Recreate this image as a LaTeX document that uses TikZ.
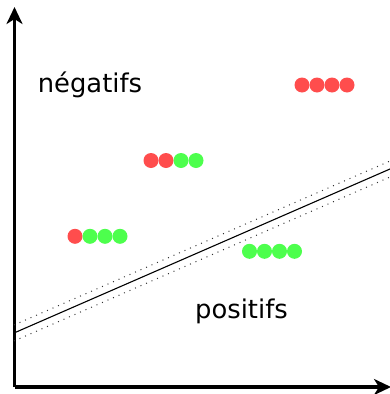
\documentclass[tikz,border=0pt]{standalone}
\usepackage{fontspec}
\setmainfont{DejaVu Sans}
\usetikzlibrary{arrows.meta}
\definecolor{dotred}{RGB}{255,77,77}
\definecolor{dotgreen}{RGB}{77,255,77}
\tikzset{
  axis/.style={line width=3.5pt,-{Stealth[length=17pt,width=16pt,inset=5pt]}},
  reddot/.style={circle,fill=dotred,minimum size=15pt,inner sep=0pt},
  greendot/.style={circle,fill=dotgreen,minimum size=15pt,inner sep=0pt},
  sep/.style={line width=1.1pt},
  margin/.style={line width=1pt,dash pattern=on 1pt off 5pt,black!80},
  lbl/.style={font=\fontsize{25.8}{30}\selectfont,inner sep=0pt}
}
\begin{document}
\begin{tikzpicture}[x=1pt,y=-1pt]
\useasboundingbox (0,0) rectangle (390,394);
\coordinate (O) at (14.5,387);
\coordinate (Ytip) at (14.5,7);
\coordinate (Xtip) at (391,387);
\draw[axis] (O) -- (Ytip);
\draw[axis] (O) -- (Xtip);
% separator and margins
\coordinate (s1) at (14,333);
\coordinate (s2) at (390,169);
\coordinate (u1) at (14,325);
\coordinate (u2) at (390,161);
\coordinate (l1) at (14,341);
\coordinate (l2) at (390,177);
\draw[sep] (s1) -- (s2);
\draw[margin] (u1) -- (u2);
\draw[margin] (l1) -- (l2);
% dots row 1
\node[reddot] (a1) at (302,85) {};
\node[reddot] (a2) at (317,85) {};
\node[reddot] (a3) at (332,85) {};
\node[reddot] (a4) at (347,85) {};
% row 2
\node[reddot] (b1) at (151,160.5) {};
\node[reddot] (b2) at (166,160.5) {};
\node[greendot] (b3) at (181,160.5) {};
\node[greendot] (b4) at (196,160.5) {};
% row 3
\node[reddot] (c1) at (75,236.3) {};
\node[greendot] (c2) at (90,236.3) {};
\node[greendot] (c3) at (105,236.3) {};
\node[greendot] (c4) at (120,236.3) {};
% row 4
\node[greendot] (d1) at (249.5,251.3) {};
\node[greendot] (d2) at (264.5,251.3) {};
\node[greendot] (d3) at (279.5,251.3) {};
\node[greendot] (d4) at (294.5,251.3) {};
% labels
\node[lbl] (neg) at (90,85) {négatifs};
\node[lbl] (pos) at (241.5,311) {positifs};
\end{tikzpicture}
\end{document}
